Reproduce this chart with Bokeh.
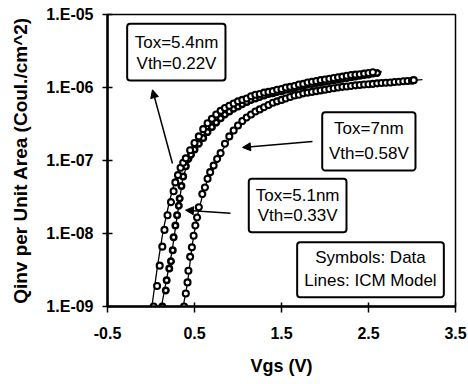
from bokeh.plotting import figure
from bokeh.models import (FixedTicker, CustomJSTickFormatter, Label, BoxAnnotation,
                          Arrow, NormalHead, Range1d)
from bokeh.embed import file_html
from bokeh.resources import INLINE

# ---- measured data (symbols) ----
vgs_54 = [0.03, 0.07, 0.10, 0.13, 0.155, 0.19, 0.23, 0.26, 0.28, 0.31, 0.34, 0.37, 0.40,
          0.45, 0.50, 0.55, 0.60, 0.65, 0.70, 0.75, 0.80, 0.85, 0.90, 0.95, 1.00, 1.05,
          1.10, 1.15, 1.20, 1.25, 1.30, 1.35, 1.40, 1.45, 1.50, 1.55, 1.60, 1.65, 1.70,
          1.75, 1.80, 1.85, 1.90, 1.95, 2.00, 2.05, 2.10, 2.15, 2.20, 2.25, 2.30, 2.35,
          2.40, 2.45, 2.50, 2.55]
q_54 = [1.00e-9, 1.91e-9, 3.63e-9, 6.61e-9, 1.12e-8, 1.78e-8, 2.69e-8, 3.80e-8, 5.01e-8,
        6.31e-8, 7.94e-8, 9.33e-8, 1.07e-7, 1.38e-7, 1.74e-7, 2.14e-7, 2.69e-7, 3.24e-7,
        3.72e-7, 4.27e-7, 4.79e-7, 5.25e-7, 5.62e-7, 6.03e-7, 6.46e-7, 6.76e-7, 7.08e-7,
        7.59e-7, 7.94e-7, 8.13e-7, 8.51e-7, 8.71e-7, 8.91e-7, 9.33e-7, 9.55e-7, 1.00e-6,
        1.02e-6, 1.05e-6, 1.10e-6, 1.12e-6, 1.17e-6, 1.20e-6, 1.23e-6, 1.26e-6, 1.29e-6,
        1.32e-6, 1.35e-6, 1.38e-6, 1.41e-6, 1.45e-6, 1.48e-6, 1.50e-6, 1.52e-6, 1.55e-6,
        1.58e-6, 1.62e-6]

vgs_51 = [0.13, 0.17, 0.18, 0.21, 0.23, 0.25, 0.26, 0.28, 0.30, 0.32, 0.33, 0.35, 0.37,
          0.40, 0.43, 0.46, 0.50, 0.55, 0.60, 0.65, 0.70, 0.75, 0.80, 0.85, 0.90, 0.95,
          1.00, 1.05, 1.10, 1.15, 1.20, 1.25, 1.30, 1.35, 1.40, 1.45, 1.50, 1.55, 1.60,
          1.65, 1.70, 1.75, 1.80, 1.85, 1.90, 1.95, 2.00, 2.05, 2.10, 2.15, 2.20, 2.25,
          2.30, 2.35, 2.40, 2.45, 2.50, 2.55, 2.60]
q_51 = [1.00e-9, 1.66e-9, 2.29e-9, 3.31e-9, 4.17e-9, 5.89e-9, 8.91e-9, 1.29e-8, 1.78e-8,
        2.40e-8, 3.02e-8, 4.47e-8, 6.03e-8, 8.32e-8, 1.05e-7, 1.20e-7, 1.41e-7, 1.70e-7,
        2.04e-7, 2.45e-7, 2.88e-7, 3.31e-7, 3.80e-7, 4.27e-7, 4.68e-7, 5.13e-7, 5.50e-7,
        5.89e-7, 6.31e-7, 6.76e-7, 7.08e-7, 7.41e-7, 7.76e-7, 8.13e-7, 8.32e-7, 8.71e-7,
        8.91e-7, 9.33e-7, 9.55e-7, 9.77e-7, 1.02e-6, 1.05e-6, 1.10e-6, 1.12e-6, 1.15e-6,
        1.17e-6, 1.20e-6, 1.23e-6, 1.26e-6, 1.29e-6, 1.32e-6, 1.35e-6, 1.38e-6, 1.41e-6,
        1.45e-6, 1.48e-6, 1.51e-6, 1.55e-6, 1.58e-6]

vgs_70 = [0.38, 0.40, 0.42, 0.43, 0.45, 0.47, 0.49, 0.51, 0.53, 0.55, 0.59, 0.62, 0.65,
          0.68, 0.72, 0.76, 0.80, 0.85, 0.90, 0.95, 1.00, 1.05, 1.10, 1.15, 1.20, 1.25,
          1.30, 1.35, 1.40, 1.45, 1.50, 1.55, 1.60, 1.65, 1.70, 1.75, 1.80, 1.85, 1.90,
          1.95, 2.00, 2.05, 2.10, 2.15, 2.20, 2.25, 2.30, 2.35, 2.40, 2.45, 2.50, 2.55,
          2.60, 2.65, 2.70, 2.75, 2.80, 2.85, 2.90, 2.95, 3.00, 3.02]
q_70 = [1.00e-9, 1.51e-9, 2.14e-9, 3.09e-9, 4.79e-9, 6.46e-9, 9.33e-9, 1.29e-8, 1.66e-8,
        2.29e-8, 3.47e-8, 4.27e-8, 5.62e-8, 6.92e-8, 8.51e-8, 1.05e-7, 1.26e-7, 1.70e-7,
        2.14e-7, 2.57e-7, 3.02e-7, 3.47e-7, 3.89e-7, 4.27e-7, 4.68e-7, 5.01e-7, 5.37e-7,
        5.75e-7, 6.17e-7, 6.46e-7, 6.76e-7, 7.08e-7, 7.41e-7, 7.76e-7, 7.94e-7, 8.32e-7,
        8.51e-7, 8.71e-7, 8.91e-7, 9.12e-7, 9.33e-7, 9.55e-7, 9.77e-7, 1.00e-6, 1.02e-6,
        1.03e-6, 1.05e-6, 1.07e-6, 1.08e-6, 1.10e-6, 1.11e-6, 1.12e-6, 1.14e-6, 1.15e-6,
        1.16e-6, 1.17e-6, 1.19e-6, 1.20e-6, 1.22e-6, 1.23e-6, 1.24e-6, 1.26e-6]

# ---- ICM model (lines) ----
model_vgs_54 = [0.01, 0.075, 0.14, 0.21, 0.27, 0.33, 0.40, 0.50, 0.65, 0.80, 1.0, 1.3,
                1.7, 2.1, 2.5, 2.65]
model_q_54 = [1.0e-9, 3.6e-9, 1.1e-8, 2.7e-8, 5.0e-8, 7.9e-8, 1.07e-7, 1.74e-7, 3.24e-7,
              4.79e-7, 6.46e-7, 8.51e-7, 1.10e-6, 1.35e-6, 1.58e-6, 1.66e-6]
model_vgs_51 = [0.12, 0.18, 0.24, 0.30, 0.36, 0.43, 0.55, 0.70, 0.90, 1.2, 1.6, 2.0, 2.4,
                2.65]
model_q_51 = [1.0e-9, 2.4e-9, 5.5e-9, 1.7e-8, 5.2e-8, 1.05e-7, 1.70e-7, 2.88e-7, 4.68e-7,
              7.08e-7, 9.55e-7, 1.20e-6, 1.45e-6, 1.62e-6]
model_vgs_70 = [0.37, 0.42, 0.47, 0.53, 0.60, 0.68, 0.80, 1.0, 1.3, 1.7, 2.1, 2.5, 2.9,
                3.12]
model_q_70 = [1.0e-9, 2.1e-9, 6.5e-9, 1.7e-8, 3.6e-8, 6.9e-8, 1.26e-7, 3.02e-7, 5.37e-7,
              7.94e-7, 9.77e-7, 1.11e-6, 1.22e-6, 1.28e-6]

x_ticks = [-0.5, 0.5, 1.5, 2.5, 3.5]
y_ticks = [1e-9, 1e-8, 1e-7, 1e-6, 1e-5]

FONT = "Liberation Sans"

p = figure(width=468, height=384, x_range=Range1d(-0.5, 3.5), y_range=Range1d(1e-9, 1e-5),
           y_axis_type="log", output_backend="svg", toolbar_location=None,
           min_border_left=107, min_border_right=13, min_border_top=14, min_border_bottom=78,
           background_fill_color="white", border_fill_color="white")

p.xgrid.visible = False
p.ygrid.visible = False
p.outline_line_color = "black"
p.outline_line_width = 1.5

p.xaxis.ticker = FixedTicker(ticks=x_ticks, minor_ticks=[])
p.yaxis.ticker = FixedTicker(ticks=y_ticks, minor_ticks=[])
p.xaxis.formatter = CustomJSTickFormatter(code="return tick.toFixed(1);")
p.yaxis.formatter = CustomJSTickFormatter(code="""
    const e = Math.round(-Math.log10(tick));
    return "1.E-" + String(e).padStart(2, "0");
""")

for ax in (p.xaxis, p.yaxis):
    ax.axis_line_width = 2.5
    ax.axis_line_color = "black"
    ax.major_tick_line_color = "black"
    ax.major_tick_line_width = 1.5
    ax.minor_tick_line_color = None
    ax.major_label_text_font = FONT
    ax.major_label_text_font_style = "bold"
    ax.major_label_text_font_size = "16px"
    ax.major_label_text_color = "black"
    ax.axis_label_text_font = FONT
    ax.axis_label_text_font_style = "bold"
    ax.axis_label_text_color = "black"

p.xaxis.major_tick_in = 4
p.xaxis.major_tick_out = 6
p.yaxis.major_tick_in = 5
p.yaxis.major_tick_out = 5
p.xaxis.major_label_standoff = 14
p.yaxis.major_label_standoff = 9
p.xaxis.axis_label = "Vgs (V)"
p.yaxis.axis_label = "Qinv per Unit Area (Coul./cm^2)"
p.xaxis.axis_label_text_font_size = "18px"
p.yaxis.axis_label_text_font_size = "19px"
p.xaxis.axis_label_standoff = 14
p.yaxis.axis_label_standoff = 12

# model lines
for mx, my in ((model_vgs_54, model_q_54), (model_vgs_51, model_q_51), (model_vgs_70, model_q_70)):
    p.line(mx, my, line_color="black", line_width=1.3)

# data symbols
p.scatter(vgs_70, q_70, marker="circle", size=6, fill_color="white", line_color="black",
          line_width=2.1)
p.scatter(vgs_51, q_51, marker="circle", size=5.5, fill_color="white", line_color="black",
          line_width=2.5)
p.scatter(vgs_54, q_54, marker="circle", size=6, fill_color="white", line_color="black",
          line_width=2.1)

# annotation boxes
boxes = [
    (-0.274, 0.856, 1.25e-6, 7.46e-6),
    (1.968, 3.040, 7.30e-8, 4.59e-7),
    (1.124, 2.247, 1.04e-8, 5.61e-8),
    (1.680, 3.366, 1.34e-9, 7.60e-9),
]
for l, r, b, t in boxes:
    p.add_layout(BoxAnnotation(left=l, right=r, bottom=b, top=t, fill_color="white",
                               fill_alpha=1.0, line_color="black", line_width=2,
                               line_alpha=1.0, border_radius=3))

labels = [
    (0.293, 4.18e-6, "Tox=5.4nm"), (0.293, 2.11e-6, "Vth=0.22V"),
    (2.504, 2.74e-7, "Tox=7nm"), (2.504, 1.25e-7, "Vth=0.58V"),
    (1.686, 3.32e-8, "Tox=5.1nm"), (1.686, 1.77e-8, "Vth=0.33V"),
    (2.523, 4.73e-9, "Symbols: Data"), (2.523, 2.27e-9, "Lines: ICM Model"),
]
for x, y, t in labels:
    p.add_layout(Label(x=x, y=y, text=t, text_align="center", text_baseline="middle",
                       text_font=FONT, text_font_size="17px", text_color="black"))

arrows = [
    (0.247, 9.1e-8, 0.017, 9.3e-7),
    (1.856, 1.82e-7, 1.052, 1.51e-7),
    (0.914, 1.90e-8, 0.397, 2.09e-8),
]
for xs, ys, xe, ye in arrows:
    p.add_layout(Arrow(end=NormalHead(size=8, fill_color="black", line_color="black"),
                       x_start=xs, y_start=ys, x_end=xe, y_end=ye,
                       line_color="black", line_width=1.5))

open("out.html", "w").write(file_html(p, INLINE))
